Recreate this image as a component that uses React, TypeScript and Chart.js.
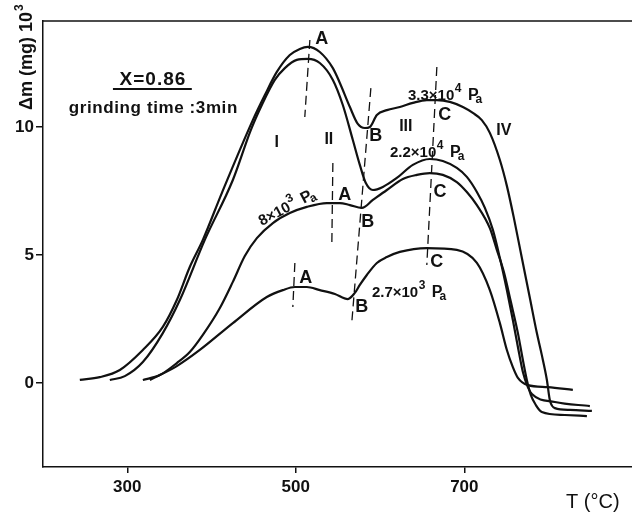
import React, { useEffect, useRef } from "react";
import { Chart, registerables } from "chart.js";

Chart.register(...registerables);

// Mass change Δm (mg ×10³) versus temperature T (°C), X = 0.86, grinding time 3 min.
// One pair of arrays per oxygen pressure.
const temp33e4 = [243.7, 267.4, 291.2, 318.5, 342.2, 358.8, 374.2, 389.7, 412.2, 449.0, 463.3, 477.5, 492.9, 504.8, 514.3, 528.5, 544.0, 552.3, 564.2, 573.6, 582.0, 587.9, 596.2, 608.1, 623.5, 638.9, 655.5, 667.4, 682.8, 698.3, 710.1, 720.8, 730.3, 742.2, 750.5, 758.8, 768.3, 777.8, 786.1, 792.0, 798.0, 801.5, 807.5, 825.3, 851.4];
const mass33e4 = [0.12, 0.23, 0.51, 1.29, 2.19, 3.24, 4.53, 5.59, 7.42, 10.27, 11.25, 12.15, 12.81, 13.05, 13.13, 12.93, 12.30, 11.72, 10.78, 10.12, 9.96, 10.0, 10.47, 10.66, 10.78, 10.94, 11.05, 11.05, 10.98, 10.78, 10.55, 10.27, 9.77, 8.71, 7.70, 6.45, 4.88, 3.32, 1.95, 1.09, 0.12, -0.66, -0.98, -1.05, -1.09];

const temp22e4 = [279.3, 297.1, 318.5, 342.2, 362.4, 392.0, 425.3, 446.6, 459.7, 475.1, 487.0, 501.2, 514.3, 528.5, 544.0, 555.8, 567.7, 576.0, 583.1, 591.5, 603.3, 619.9, 638.9, 659.1, 674.5, 691.1, 703.0, 714.9, 724.4, 733.9, 742.2, 750.5, 757.6, 763.6, 769.5, 775.4, 780.2, 807.5, 849.0];
const mass22e4 = [0.12, 0.27, 0.82, 1.95, 3.24, 5.59, 7.93, 9.88, 10.86, 11.84, 12.30, 12.62, 12.66, 12.50, 11.84, 10.86, 9.49, 8.52, 7.81, 7.54, 7.66, 8.01, 8.52, 8.75, 8.67, 8.40, 8.05, 7.46, 6.84, 5.98, 4.88, 3.63, 2.46, 1.41, 0.43, -0.16, -0.43, -0.74, -0.90];

const temp8e3 = [318.5, 338.6, 358.8, 374.2, 389.7, 409.9, 425.3, 439.5, 453.8, 472.8, 492.9, 513.1, 536.9, 552.3, 564.2, 578.4, 591.5, 608.1, 627.1, 643.7, 659.1, 674.5, 691.1, 703.0, 714.9, 730.3, 738.6, 746.9, 755.3, 763.6, 769.5, 774.2, 779.0, 784.9, 792.0, 819.3, 845.5];
const mass8e3 = [0.12, 0.31, 0.78, 1.21, 1.88, 2.93, 3.95, 4.96, 5.66, 6.25, 6.64, 6.88, 7.03, 7.03, 6.95, 6.84, 7.15, 7.54, 7.97, 8.13, 8.20, 8.13, 7.85, 7.46, 6.95, 6.05, 5.20, 4.34, 3.16, 1.95, 0.90, 0.12, -0.47, -0.86, -1.13, -1.25, -1.29];

const temp27e3 = [326.8, 358.8, 386.1, 425.3, 465.6, 484.6, 498.9, 513.1, 528.5, 546.4, 561.8, 570.1, 576.0, 584.3, 596.2, 608.1, 623.5, 655.5, 691.1, 714.9, 730.3, 742.2, 750.5, 757.6, 763.6, 775.4, 799.2, 828.8];
const mass27e3 = [0.12, 0.66, 1.29, 2.34, 3.36, 3.63, 3.75, 3.75, 3.63, 3.48, 3.28, 3.52, 3.83, 4.22, 4.69, 4.92, 5.12, 5.27, 5.20, 4.69, 3.63, 2.34, 1.29, 0.62, 0.20, -0.08, -0.16, -0.27];

const xTicks = [300, 500, 700];
const yTicks = [0, 5, 10];

// Dashed boundaries through the A, B and C points (T, Δm end points)
const guideA1 = [[516.7, 13.4], [510.7, 10.39]];
const guideA2 = [[544.0, 8.59], [542.8, 5.47]];
const guideA3 = [[498.9, 4.69], [496.5, 2.97]];
const guideB = [[589.1, 11.52], [566.5, 2.38]];
const guideC = [[667.4, 12.34], [655.5, 4.61]];

const INK = "#111";
const FONT = '"Liberation Sans", Arial, sans-serif';

const regionLabels = [
  { text: "I", t: 477.5, m: 9.38 },
  { text: "II", t: 539.2, m: 9.49 },
  { text: "III", t: 630.6, m: 10.0 },
  { text: "IV", t: 746.9, m: 9.84 },
];

const pointLabels = [
  { text: "A", t: 530.9, m: 13.44 },
  { text: "B", t: 595.0, m: 9.65 },
  { text: "C", t: 676.9, m: 10.47 },
  { text: "A", t: 558.2, m: 7.34 },
  { text: "B", t: 585.5, m: 6.29 },
  { text: "C", t: 671.0, m: 7.46 },
  { text: "A", t: 511.9, m: 4.1 },
  { text: "B", t: 578.4, m: 2.97 },
  { text: "C", t: 667.4, m: 4.73 },
];

const pressureLabels = [
  { mant: "3.3×10", exp: "4", t: 633.1, m: 11.05, angle: 0 },
  { mant: "2.2×10", exp: "4", t: 611.8, m: 8.83, angle: 0 },
  { mant: "8×10", exp: "3", t: 459.7, m: 6.13, angle: -0.49 },
  { mant: "2.7×10", exp: "3", t: 590.3, m: 3.36, angle: 0 },
];

const pairs = (t: number[], m: number[]) => t.map((x, i) => ({ x, y: m[i] }));
const seg = (g: number[][]) => g.map(([x, y]) => ({ x, y }));

const curve = (label: string, data: { x: number; y: number }[]) => ({
  label,
  data,
  borderColor: INK,
  borderWidth: 2.2,
  pointRadius: 0,
  fill: false,
  cubicInterpolationMode: "monotone" as const,
});

const guide = (data: { x: number; y: number }[]) => ({
  label: "",
  data,
  borderColor: INK,
  borderWidth: 1.3,
  borderDash: [9, 5],
  pointRadius: 0,
  fill: false,
  tension: 0,
});

function drawPressure(ctx: CanvasRenderingContext2D, x: number, y: number, mant: string, exp: string, angle: number) {
  ctx.save();
  ctx.translate(x, y);
  ctx.rotate(angle);
  ctx.textAlign = "left";
  ctx.textBaseline = "alphabetic";
  ctx.font = `bold 15px ${FONT}`;
  ctx.fillText(mant, 0, 0);
  let w = ctx.measureText(mant).width;
  ctx.font = `bold 12px ${FONT}`;
  ctx.fillText(exp, w + 0.5, -8);
  w += ctx.measureText(exp).width + 7;
  ctx.font = `bold 16px ${FONT}`;
  ctx.fillText("P", w, 0);
  const wp = ctx.measureText("P").width;
  ctx.font = `bold 12px ${FONT}`;
  ctx.fillText("a", w + wp - 3, 3);
  ctx.restore();
}

const annotations = {
  id: "annotations",
  afterDraw(chart: any) {
    const { ctx, chartArea, scales } = chart;
    const px = (t: number) => scales.x.getPixelForValue(t);
    const py = (m: number) => scales.y.getPixelForValue(m);
    ctx.save();
    ctx.fillStyle = INK;
    ctx.strokeStyle = INK;

    // top frame line
    ctx.lineWidth = 1.5;
    ctx.beginPath();
    ctx.moveTo(chartArea.left, chartArea.top);
    ctx.lineTo(chartArea.right, chartArea.top);
    ctx.stroke();

    // heading
    ctx.textAlign = "center";
    ctx.textBaseline = "alphabetic";
    ctx.font = `bold 19px ${FONT}`;
    (ctx as any).letterSpacing = "1px";
    ctx.fillText("X=0.86", px(330.5), py(11.64));
    ctx.lineWidth = 2;
    ctx.beginPath();
    ctx.moveTo(px(283.0), py(11.48));
    ctx.lineTo(px(376.6), py(11.48));
    ctx.stroke();
    ctx.textAlign = "left";
    ctx.font = `bold 17px ${FONT}`;
    (ctx as any).letterSpacing = "0.6px";
    ctx.fillText("grinding time :3min", px(230.6), py(10.55));
    (ctx as any).letterSpacing = "0px";

    // region numerals and point letters
    ctx.textAlign = "center";
    ctx.textBaseline = "middle";
    ctx.font = `bold 16px ${FONT}`;
    regionLabels.forEach((l) => ctx.fillText(l.text, px(l.t), py(l.m)));
    ctx.font = `bold 18px ${FONT}`;
    pointLabels.forEach((l) => ctx.fillText(l.text, px(l.t), py(l.m)));

    // pressure labels
    pressureLabels.forEach((l) => drawPressure(ctx, px(l.t), py(l.m), l.mant, l.exp, l.angle));

    // y-axis title, read bottom to top
    ctx.save();
    ctx.translate(32, 110);
    ctx.rotate(-Math.PI / 2);
    ctx.textAlign = "left";
    ctx.textBaseline = "alphabetic";
    ctx.font = `bold 18px ${FONT}`;
    const title = "Δm (mg) 10";
    ctx.fillText(title, 0, 0);
    const tw = ctx.measureText(title).width;
    ctx.font = `bold 12px ${FONT}`;
    ctx.fillText("3", tw + 1, -9);
    ctx.restore();

    // x-axis title
    ctx.textAlign = "left";
    ctx.textBaseline = "alphabetic";
    ctx.font = `20px ${FONT}`;
    ctx.fillText("T (°C)", 566, 508);

    ctx.restore();
  },
};

export default function App() {
  const ref = useRef<HTMLCanvasElement>(null);

  useEffect(() => {
    const chart = new Chart(ref.current as HTMLCanvasElement, {
      type: "line",
      data: {
        datasets: [
          curve("3.3×10⁴ Pa", pairs(temp33e4, mass33e4)),
          curve("2.2×10⁴ Pa", pairs(temp22e4, mass22e4)),
          curve("8×10³ Pa", pairs(temp8e3, mass8e3)),
          curve("2.7×10³ Pa", pairs(temp27e3, mass27e3)),
          guide(seg(guideA1)),
          guide(seg(guideA2)),
          guide(seg(guideA3)),
          guide(seg(guideB)),
          guide(seg(guideC)),
        ] as any,
      },
      options: {
        animation: false,
        responsive: false,
        devicePixelRatio: 1,
        layout: { padding: { top: 21, right: 0, left: 0, bottom: 0 } },
        plugins: { legend: { display: false }, tooltip: { enabled: false } },
        events: [],
        scales: {
          x: {
            type: "linear",
            min: 200,
            max: 899,
            afterBuildTicks: (axis: any) => {
              axis.ticks = xTicks.map((value) => ({ value }));
            },
            afterFit: (axis: any) => {
              axis.height = 49;
            },
            grid: { drawOnChartArea: false, drawTicks: true, tickLength: 6, color: INK, lineWidth: 1.5 },
            border: { display: true, color: INK, width: 1.5 },
            ticks: {
              autoSkip: false,
              maxRotation: 0,
              padding: 4,
              color: INK,
              font: { family: FONT, size: 17, weight: "bold" },
            },
          },
          y: {
            type: "linear",
            min: -3.28,
            max: 14.14,
            afterBuildTicks: (axis: any) => {
              axis.ticks = yTicks.map((value) => ({ value }));
            },
            afterFit: (axis: any) => {
              axis.width = 43;
            },
            grid: { drawOnChartArea: false, drawTicks: true, tickLength: 7, color: INK, lineWidth: 1.5 },
            border: { display: true, color: INK, width: 1.5 },
            ticks: {
              autoSkip: false,
              padding: 2,
              color: INK,
              font: { family: FONT, size: 17, weight: "bold" },
            },
          },
        },
      },
      plugins: [annotations],
    });
    return () => chart.destroy();
  }, []);

  return (
    <div style={{ position: "absolute", left: 0, top: 0, width: 632, height: 516, background: "#fff" }}>
      <canvas ref={ref} width={632} height={516} style={{ display: "block" }} />
    </div>
  );
}
